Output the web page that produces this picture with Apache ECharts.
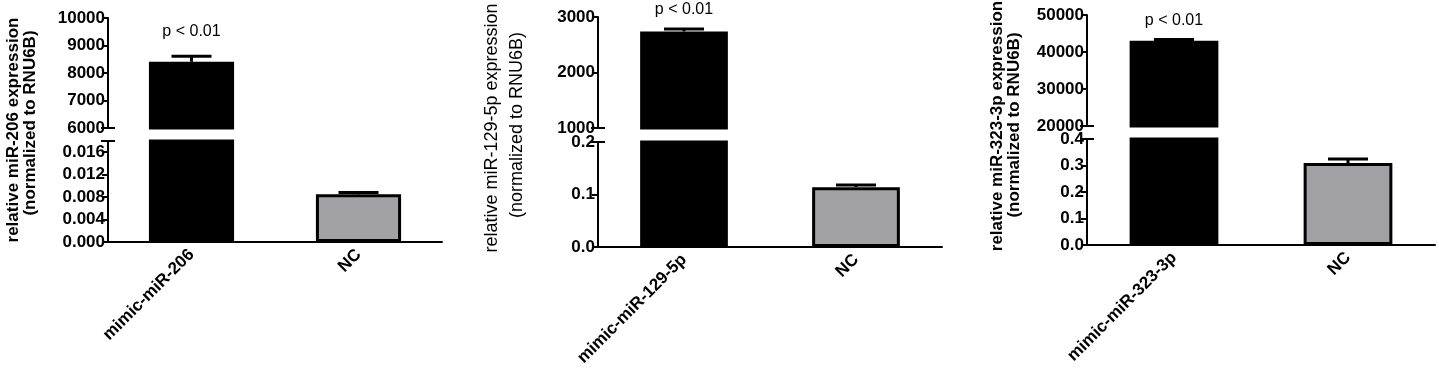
<!DOCTYPE html>
<html><head><meta charset="utf-8">
<script src="https://cdn.jsdelivr.net/npm/echarts@6/dist/echarts.min.js"></script>
<style>html,body{margin:0;padding:0;background:#fff}#c{width:1439px;height:372px}</style>
</head><body><div id="c"></div>
<script>
// ---------- data ----------
const categories1 = ['mimic-miR-206', 'NC'];
const categories2 = ['mimic-miR-129-5p', 'NC'];
const categories3 = ['mimic-miR-323-3p', 'NC'];
const values1 = [8410, 0.0085];
const errors1 = [200, 0.0003];
const values2 = [2740, 0.114];
const errors2 = [45, 0.004];
const values3 = [43050, 0.309];
const errors3 = [350, 0.016];
const pLabels = ['p < 0.01', 'p < 0.01', 'p < 0.01'];
const titleLines1 = ['relative miR-206 expression', '(normalized to RNU6B)'];
const titleLines2 = ['relative miR-129-5p expression', '(normalized to RNU6B)'];
const titleLines3 = ['relative miR-323-3p expression', '(normalized to RNU6B)'];
// axis scales: [min, max, interval]
const upperAxis1 = [6000, 10000, 1000];
const lowerAxis1 = [0, 0.018, 0.004];
const upperAxis2 = [1000, 3000, 1000];
const lowerAxis2 = [0, 0.2, 0.1];
const upperAxis3 = [20000, 50000, 10000];
const lowerAxis3 = [0, 0.4, 0.1];
const lowerDecimals = [3, 1, 1];
const barColors = ['#000000', '#a2a2a6'];

// ---------- layout ----------
const FONT = '"Liberation Sans", Arial, sans-serif';
const panels = [
  {cats: categories1, vals: values1, errs: errors1, up: upperAxis1, lo: lowerAxis1, titles: titleLines1,
   left: 108, width: 334, upTop: 18, upH: 110, loTop: 141, loH: 101, pOff: 25,
   tx: [13, 30], ty: [130, 123], tWeight: 'bold', tSize: 17},
  {cats: categories2, vals: values2, errs: errors2, up: upperAxis2, lo: lowerAxis2, titles: titleLines2,
   left: 598, width: 344, upTop: 17, upH: 111, loTop: 142, loH: 105, pOff: 19,
   tx: [492, 517], ty: [128, 125], tWeight: 'normal', tSize: 18},
  {cats: categories3, vals: values3, errs: errors3, up: upperAxis3, lo: lowerAxis3, titles: titleLines3,
   left: 1087, width: 348, upTop: 15, upH: 111, loTop: 139, loH: 106, pOff: 19,
   tx: [997, 1014], ty: [126, 125], tWeight: 'bold', tSize: 17}
];

const grid = [], xAxis = [], yAxis = [], series = [], graphic = [];

function makeRender(p, range, isTop, pi) {
  return function (params, api) {
    const i = params.dataIndex;
    const cs = params.coordSys;
    const children = [];
    const v = p.vals[i], e = p.errs[i], hi = v + e;
    if (v >= range[0] && hi <= range[1]) {
      const b = api.coord([i, v]);
      const t = api.coord([i, hi]);
      const cw = 20;
      children.push({type: 'line', shape: {x1: b[0], y1: b[1], x2: t[0], y2: t[1]},
        style: {stroke: '#000', lineWidth: 3}});
      children.push({type: 'line', shape: {x1: t[0] - cw, y1: t[1], x2: t[0] + cw, y2: t[1]},
        style: {stroke: '#000', lineWidth: 3}});
      if (isTop && i === 0) {
        children.push({type: 'text', x: t[0], y: t[1] - p.pOff,
          style: {text: pLabels[pi], textAlign: 'center', textVerticalAlign: 'middle',
            font: 'normal 16px ' + FONT, fill: '#000'}});
      }
    }
    if (i === 0) {
      const yb = isTop ? cs.y + cs.height : cs.y;
      children.push({type: 'line', shape: {x1: cs.x - 7, y1: yb, x2: cs.x + 7, y2: yb},
        style: {stroke: '#000', lineWidth: 2}});
    }
    return {type: 'group', children};
  };
}

panels.forEach((p, pi) => {
  const gTop = pi * 2, gBot = pi * 2 + 1;
  grid.push({left: p.left, width: p.width, top: p.upTop, height: p.upH});
  grid.push({left: p.left, width: p.width, top: p.loTop, height: p.loH});
  xAxis.push({type: 'category', gridIndex: gTop, data: p.cats, show: false});
  xAxis.push({type: 'category', gridIndex: gBot, data: p.cats,
    axisLine: {lineStyle: {color: '#000', width: 2}},
    axisTick: {alignWithLabel: true, length: 6, lineStyle: {color: '#000', width: 2}},
    axisLabel: {rotate: 45, interval: 0, margin: 10, color: '#000', fontWeight: 'bold', fontSize: 17, fontFamily: FONT}});
  const yCommon = {type: 'value', splitLine: {show: false},
    axisLine: {show: true, lineStyle: {color: '#000', width: 2}},
    axisTick: {show: true, length: 6, lineStyle: {color: '#000', width: 2}}};
  yAxis.push(Object.assign({}, yCommon, {gridIndex: gTop, min: p.up[0], max: p.up[1], interval: p.up[2],
    axisLabel: {color: '#000', fontWeight: 'bold', fontSize: 17, fontFamily: FONT, margin: 3,
      formatter: v => String(Math.round(v))}}));
  yAxis.push(Object.assign({}, yCommon, {gridIndex: gBot, min: p.lo[0], max: p.lo[1], interval: p.lo[2],
    axisLabel: {color: '#000', fontWeight: 'bold', fontSize: 17, fontFamily: FONT, margin: 3,
      showMaxLabel: pi !== 0, formatter: v => v.toFixed(lowerDecimals[pi])}}));
  [gTop, gBot].forEach((g, k) => {
    series.push({type: 'bar', xAxisIndex: g, yAxisIndex: g, barWidth: '51%', clip: true,
      data: p.vals.map((v, i) => ({value: v, itemStyle: {color: barColors[i], borderColor: '#000', borderWidth: 3}})),
      z: 2});
    series.push({type: 'custom', xAxisIndex: g, yAxisIndex: g, z: 5, clip: false,
      renderItem: makeRender(p, k === 0 ? p.up : p.lo, k === 0, pi),
      data: p.vals.map((v, i) => [i, v + p.errs[i]])});
  });
  p.titles.forEach((t, li) => {
    graphic.push({type: 'text', x: p.tx[li], y: p.ty[li], rotation: Math.PI / 2,
      style: {text: t, textAlign: 'center', textVerticalAlign: 'middle',
        font: p.tWeight + ' ' + p.tSize + 'px ' + FONT, fill: '#000'}});
  });
});

const chart = echarts.init(document.getElementById('c'), null, {renderer: 'canvas'});
chart.setOption({animation: false, backgroundColor: '#fff', grid, xAxis, yAxis, series, graphic});
</script>
</body></html>
